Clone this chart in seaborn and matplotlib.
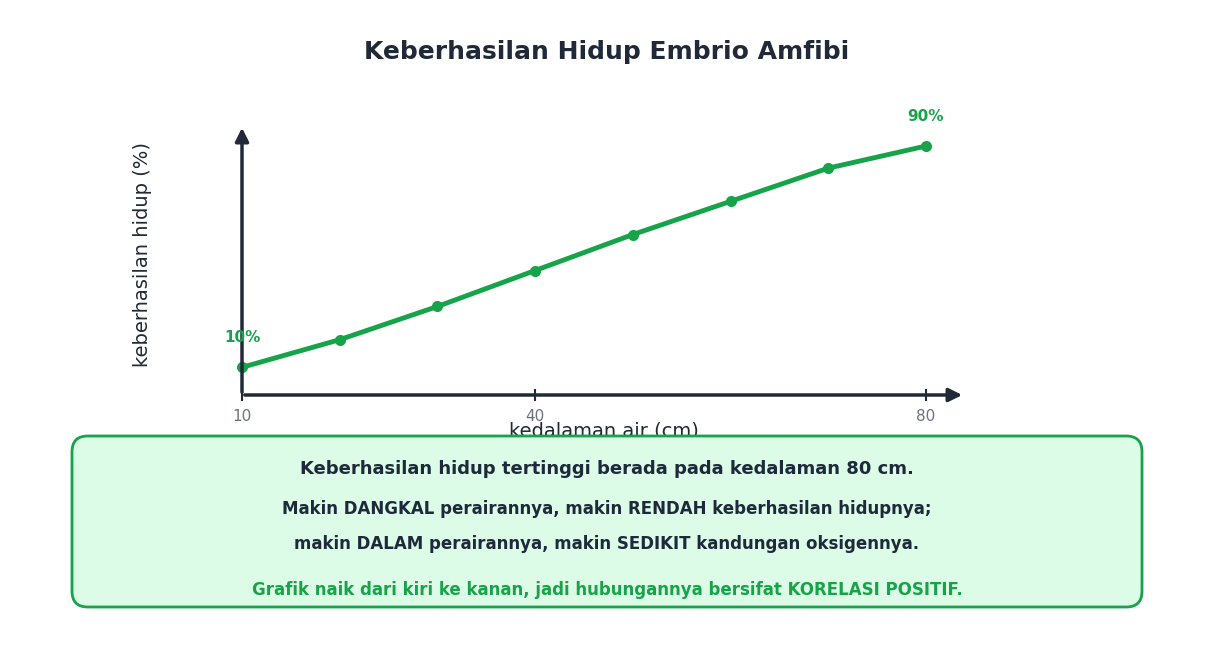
import matplotlib
matplotlib.use("Agg")
import matplotlib.pyplot as plt
import seaborn as sns
import pandas as pd
from matplotlib.patches import FancyBboxPatch

depth = [10, 20, 30, 40, 50, 60, 70, 80]
success = [10, 20, 32, 45, 58, 70, 82, 90]
xticks = [10, 40, 80]

sns.set_style("white")
plt.rcParams['font.family'] = ['DejaVu Sans']
W, H = 1214, 652
fig = plt.figure(figsize=(W/100, H/100), dpi=100)
ax = fig.add_axes([242/W, 1-395/H, (965-242)/W, (395-125)/H])
green = "#16a34a"
dark = "#1f2937"
df = pd.DataFrame({"d": depth, "s": success})
sns.lineplot(data=df, x="d", y="s", ax=ax, color=green, lw=3.5, marker="o",
             markersize=8, markeredgewidth=0, clip_on=False)
ax.set_xlim(10, 84)
ax.set_ylim(0, 97.6)
for s in ax.spines.values():
    s.set_visible(False)
ax.annotate("", xy=(84, 0), xytext=(10, 0), xycoords="data",
            arrowprops=dict(arrowstyle="-|>", color=dark, lw=2.5, mutation_scale=20), annotation_clip=False)
ax.annotate("", xy=(10, 97.6), xytext=(10, 0),
            arrowprops=dict(arrowstyle="-|>", color=dark, lw=2.5, mutation_scale=20), annotation_clip=False)
ax.set_xticks(xticks)
ax.set_xticklabels([str(v) for v in xticks], color="#6b7280", fontsize=11)
ax.tick_params(axis="x", length=8, width=1.5, color=dark, direction="inout", pad=6, bottom=True)
ax.set_yticks([])
ax.set_xlabel("kedalaman air (cm)", fontsize=14, color=dark, labelpad=-2)
ax.set_ylabel("keberhasilan hidup (%)", fontsize=14, color=dark, labelpad=72)
ax.yaxis.set_label_coords(-0.125, 0.52)
ax.text(depth[0], success[0] + 9, "10%", color=green, fontsize=11, fontweight="bold", ha="center")
ax.text(depth[-1], success[-1] + 9, "90%", color=green, fontsize=11, fontweight="bold", ha="center")

fig.text(0.5, 1-52/H, "Keberhasilan Hidup Embrio Amfibi", ha="center", va="center",
         fontsize=18, fontweight="bold", color=dark)
box = FancyBboxPatch((72/W, 1-607/H), (1142-72)/W, (607-436)/H,
                     boxstyle="round,pad=0,rounding_size=0.013", transform=fig.transFigure,
                     facecolor="#dcfce7", edgecolor=green, lw=2, mutation_aspect=W/H)
fig.patches.append(box)
fig.text(0.5, 1-469/H, "Keberhasilan hidup tertinggi berada pada kedalaman 80 cm.", ha="center", va="center",
         fontsize=13, fontweight="bold", color="#1e293b")
fig.text(0.5, 1-509/H, "Makin DANGKAL perairannya, makin RENDAH keberhasilan hidupnya;", ha="center", va="center",
         fontsize=12, fontweight="bold", color="#1e293b")
fig.text(0.5, 1-544/H, "makin DALAM perairannya, makin SEDIKIT kandungan oksigennya.", ha="center", va="center",
         fontsize=12, fontweight="bold", color="#1e293b")
fig.text(0.5, 1-590/H, "Grafik naik dari kiri ke kanan, jadi hubungannya bersifat KORELASI POSITIF.", ha="center", va="center",
         fontsize=12, fontweight="bold", color=green)
fig.savefig("out.png", dpi=100)
